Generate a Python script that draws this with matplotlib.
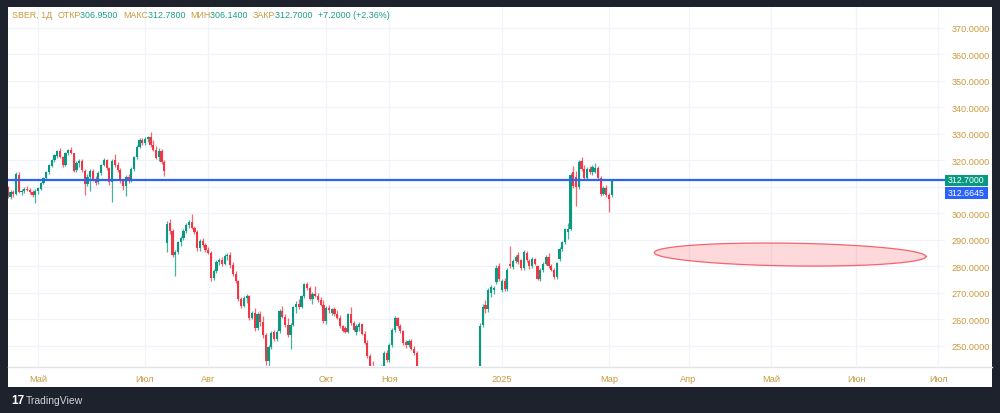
import numpy as np
import pandas as pd
import matplotlib
matplotlib.use("Agg")
import matplotlib.pyplot as plt
from matplotlib.patches import Rectangle

plt.rcParams['font.family'] = ['Liberation Sans', 'DejaVu Sans']

# ---------------- data ----------------
ticker = "SBER, 1Д"
start_date = "2024-04-16"
moex_holidays = ["2024-05-01", "2024-05-09", "2024-05-10", "2024-06-12", "2024-11-04",
                 "2024-12-31", "2025-01-01", "2025-01-02", "2025-01-07", "2025-01-08"]
axis_end_date = "2025-07-10"

opens = [
    309.8, 306.2, 308.2, 307.4, 314.6, 308.0, 308.6, 309.3, 308.8, 308.0,
    306.9, 308.5, 309.4, 311.5, 313.3, 315.7, 318.0, 320.1, 321.8, 323.4,
    321.2, 318.3, 322.8, 324.0, 322.7, 316.4, 319.2, 319.8, 316.2, 311.0,
    313.8, 316.0, 313.0, 311.8, 315.2, 318.4, 320.2, 317.0, 311.8, 320.0,
    318.4, 316.4, 312.2, 310.2, 313.8, 312.4, 316.8, 321.2, 325.2, 327.8,
    326.6, 328.2, 328.8, 325.8, 324.0, 321.2, 323.6, 319.4,
    289.0, 296.4, 293.2, 284.4, 285.6, 289.2, 290.6, 293.4, 295.6, 296.8,
    294.6, 293.0, 286.8, 289.6, 288.0, 286.4, 285.0, 275.6, 278.2, 281.8,
    282.6, 281.0, 283.8, 284.2, 280.4, 277.2, 274.4, 267.6, 265.2, 268.2,
    268.8, 260.6, 262.4, 256.6, 262.0, 259.0, 254.0, 244.4, 249.6, 255.4,
    252.6, 255.6, 263.2, 261.0, 257.8, 254.2, 258.0, 264.6, 265.8, 264.8,
    268.8, 273.2, 272.0, 267.8, 269.6, 269.0, 267.2, 265.6, 259.4, 264.2,
    262.6, 263.8, 262.0, 260.6, 257.4, 256.6, 255.4, 262.0, 258.8, 255.4,
    257.0, 258.2, 254.6, 251.2, 246.2, 242.0, 240.0, 236.4, 239.6, 242.2,
    247.4, 244.6, 250.4, 256.0, 260.6, 257.4, 255.6, 251.6, 250.2, 251.8,
    249.0, 247.4, 240.4, 236.8, 238.6, 233.8, 230.4, 235.2, 238.8, 236.0,
    232.2, 235.8, 234.4, 237.6, 232.8, 229.0, 226.2, 229.8, 227.0, 224.0,
    227.8, 225.0, 222.4, 224.0, 222.0, 258.0, 265.6, 263.8, 270.0, 271.0,
    274.0, 280.2, 271.0, 274.4, 271.6, 281.0, 279.8, 282.2, 284.2, 282.4,
    279.6, 285.2, 282.0, 280.0, 282.8, 280.0, 275.4, 278.8, 281.0, 283.6,
    280.2, 278.8, 276.0, 282.8, 286.6, 289.2, 293.0, 294.2, 315.6, 313.6,
    310.0, 319.8, 316.8, 313.4, 316.8, 315.6, 315.8, 317.2, 313.4, 307.4,
    309.6, 307.0, 306.95,
]
highs = [
    310.5, 308.8, 309.0, 315.5, 315.8, 309.2, 310.0, 310.2, 309.6, 308.8,
    309.4, 310.0, 312.0, 313.8, 316.2, 318.5, 320.6, 322.4, 323.9, 324.6,
    321.8, 323.2, 324.4, 325.2, 323.0, 319.8, 320.4, 320.6, 316.8, 315.0,
    316.8, 316.8, 314.2, 316.0, 318.8, 320.8, 320.6, 317.6, 320.6, 322.4,
    319.6, 317.0, 313.0, 314.6, 315.0, 317.4, 321.8, 325.8, 328.4, 328.6,
    328.8, 329.4, 330.8, 327.6, 325.4, 324.6, 324.2, 320.0,
    297.0, 298.0, 294.2, 286.4, 289.8, 291.6, 294.0, 296.4, 297.4, 299.8,
    295.2, 293.6, 290.4, 290.8, 288.8, 287.4, 285.8, 279.0, 282.6, 283.2,
    283.4, 284.6, 285.0, 285.4, 281.6, 278.4, 275.0, 268.6, 269.0, 269.6,
    269.2, 263.2, 264.4, 262.8, 263.2, 261.4, 254.8, 250.4, 255.6, 256.2,
    256.0, 264.0, 265.2, 262.0, 260.6, 258.6, 265.0, 266.8, 267.6, 269.4,
    273.8, 274.0, 272.8, 270.4, 272.8, 270.0, 268.4, 267.2, 265.0, 265.4,
    264.4, 264.6, 263.4, 261.8, 258.0, 257.4, 262.6, 264.8, 259.6, 258.4,
    259.0, 258.6, 255.6, 252.2, 247.0, 244.2, 241.6, 240.4, 242.8, 248.0,
    248.4, 251.0, 256.6, 261.2, 261.0, 258.2, 256.2, 252.4, 252.6, 252.8,
    250.0, 248.2, 241.2, 239.8, 239.4, 235.0, 236.0, 239.6, 240.2, 236.8,
    236.6, 237.0, 238.4, 238.2, 233.6, 230.2, 230.6, 231.0, 228.0, 228.6,
    229.4, 226.0, 225.0, 224.6, 258.6, 266.0, 267.2, 271.8, 273.0, 272.8,
    280.6, 281.4, 275.2, 275.6, 279.6, 287.6, 282.8, 284.2, 285.6, 283.0,
    286.4, 286.0, 282.8, 283.6, 283.2, 280.6, 279.6, 281.6, 284.2, 285.2,
    281.0, 279.6, 281.8, 287.4, 289.8, 294.6, 296.4, 315.2, 318.0, 316.2,
    320.2, 321.4, 318.2, 317.6, 317.8, 318.4, 319.0, 318.0, 314.0, 310.2,
    310.8, 307.8, 312.78,
]
lows = [
    305.8, 305.5, 306.4, 307.0, 307.6, 306.8, 307.9, 308.4, 307.5, 306.2,
    303.8, 307.5, 309.0, 311.0, 312.8, 315.0, 317.4, 319.5, 321.0, 320.8,
    317.6, 318.0, 322.0, 322.3, 315.5, 315.6, 317.6, 315.8, 306.8, 310.2,
    308.6, 312.4, 310.8, 311.0, 314.6, 317.8, 316.4, 310.8, 304.2, 317.6,
    315.8, 311.6, 309.0, 306.6, 311.6, 312.0, 316.2, 320.6, 324.6, 326.0,
    326.0, 327.0, 325.0, 323.4, 320.4, 319.8, 318.8, 314.2,
    285.5, 292.4, 283.6, 276.5, 284.8, 287.8, 290.0, 292.6, 294.6, 294.0,
    292.4, 286.0, 286.0, 287.2, 285.6, 284.6, 274.6, 274.8, 277.6, 280.4,
    280.2, 280.4, 282.6, 279.6, 276.4, 273.6, 266.8, 264.4, 264.6, 266.4,
    259.8, 260.0, 255.6, 256.0, 257.6, 253.0, 243.0, 242.6, 248.8, 252.0,
    251.8, 254.8, 260.4, 257.0, 253.4, 248.8, 257.4, 262.4, 264.0, 264.2,
    268.2, 271.2, 267.2, 265.8, 268.4, 266.6, 265.0, 258.6, 258.2, 262.6,
    261.6, 261.4, 260.0, 256.6, 255.2, 255.0, 255.0, 258.0, 255.6, 254.2,
    255.8, 254.0, 250.6, 245.4, 241.0, 238.0, 235.0, 235.0, 238.6, 241.6,
    243.8, 243.8, 249.6, 255.4, 256.6, 254.8, 250.4, 249.4, 249.6, 248.4,
    246.6, 239.4, 236.0, 235.6, 233.0, 229.6, 229.8, 234.4, 235.2, 231.4,
    231.0, 233.6, 233.8, 232.0, 228.2, 225.4, 225.0, 226.4, 223.2, 223.0,
    224.2, 221.4, 219.8, 220.6, 221.4, 257.2, 262.6, 263.0, 268.6, 269.8,
    273.4, 274.6, 270.2, 270.8, 270.8, 279.4, 279.0, 281.2, 281.0, 278.6,
    278.8, 281.6, 279.2, 279.4, 280.4, 274.8, 274.6, 278.0, 280.4, 279.4,
    278.2, 275.2, 275.2, 282.0, 285.8, 288.6, 290.4, 293.6, 309.6, 302.8,
    309.4, 316.0, 312.6, 312.8, 315.0, 314.6, 315.2, 312.6, 306.6, 306.8,
    306.4, 300.5, 306.14,
]
closes = [
    306.5, 308.2, 307.2, 314.8, 308.2, 308.6, 309.4, 308.8, 308.0, 306.9,
    308.6, 309.5, 311.6, 313.4, 315.8, 318.1, 320.2, 321.9, 323.5, 321.3,
    318.2, 322.8, 324.0, 322.8, 316.2, 319.2, 319.8, 316.4, 311.2, 313.6,
    316.2, 313.0, 311.6, 315.2, 318.4, 320.2, 317.0, 312.0, 319.8, 318.2,
    316.4, 312.4, 310.2, 313.8, 312.2, 316.8, 321.2, 325.2, 327.8, 326.6,
    328.2, 328.8, 325.8, 324.0, 321.0, 323.6, 319.6, 316.2,
    296.0, 293.2, 284.4, 285.6, 289.2, 290.6, 293.4, 295.6, 296.8, 294.6,
    293.0, 286.8, 289.6, 288.0, 286.4, 285.2, 275.6, 278.2, 281.8, 282.6,
    281.0, 283.8, 284.2, 280.4, 277.2, 274.4, 267.6, 265.2, 268.2, 268.8,
    260.6, 262.4, 256.6, 262.0, 259.0, 254.0, 244.4, 249.6, 255.0, 252.6,
    255.4, 263.2, 261.0, 257.8, 254.2, 258.0, 264.6, 265.8, 264.8, 268.8,
    273.2, 272.0, 267.8, 269.6, 269.0, 267.2, 265.6, 259.4, 264.2, 263.4,
    263.8, 262.0, 260.6, 257.4, 255.8, 255.4, 262.0, 258.8, 256.2, 257.6,
    258.2, 254.6, 251.2, 246.2, 242.0, 239.0, 236.4, 239.6, 242.2, 247.4,
    244.6, 250.4, 256.0, 260.6, 257.4, 255.6, 251.2, 250.2, 251.8, 249.0,
    247.4, 240.4, 236.8, 238.6, 233.8, 230.4, 235.2, 238.8, 236.0, 232.2,
    235.8, 234.4, 237.6, 232.8, 229.0, 226.2, 229.8, 227.0, 224.0, 227.8,
    225.0, 222.4, 224.0, 221.8, 257.6, 264.8, 263.8, 271.2, 272.2, 272.0,
    279.6, 275.4, 274.4, 271.6, 278.8, 280.2, 282.2, 283.6, 281.8, 279.4,
    285.6, 282.4, 280.0, 282.8, 281.0, 275.4, 278.8, 281.0, 283.6, 280.2,
    278.8, 276.0, 281.2, 286.6, 289.2, 294.0, 294.2, 314.4, 310.4, 310.0,
    319.4, 316.8, 313.4, 316.8, 315.6, 317.4, 317.2, 313.4, 307.4, 309.6,
    307.0, 305.5, 312.70,
]

hline_price = 312.6645
last_change = 7.20
last_change_pct = 2.36

month_labels = ["Май", "Июл", "Авг", "Окт", "Ноя", "2025", "Мар", "Апр", "Май", "Июн", "Июл"]
month_dates = ["2024-05-01", "2024-07-01", "2024-08-01", "2024-10-01", "2024-11-01", "2025-01-01",
               "2025-03-01", "2025-04-01", "2025-05-01", "2025-06-01", "2025-07-01"]
price_ticks = [250, 260, 270, 280, 290, 300, 310, 320, 330, 340, 350, 360, 370]

ellipse_center_date = "2025-05-08"
ellipse_center_price = 284.5
ellipse_width_days = 99
ellipse_height_price = 8.6
ellipse_tilt_price = -1.5

# ---------------- build x axis (trading days, then calendar days) ----------------
n = min(len(opens), len(highs), len(lows), len(closes))
o = np.array(opens[:n]); h = np.array(highs[:n]); l = np.array(lows[:n]); c = np.array(closes[:n])
bday = pd.offsets.CustomBusinessDay(holidays=moex_holidays)
hist_dates = pd.date_range(start=start_date, periods=n, freq=bday)
fut_dates = pd.date_range(hist_dates[-1] + pd.Timedelta(days=1), axis_end_date, freq="D")
all_dates = hist_dates.append(fut_dates)
idx = np.arange(n)

def date_to_idx(d):
    d = pd.Timestamp(d)
    return int(np.searchsorted(all_dates.values, np.datetime64(d)))

# ---------------- figure ----------------
W, H = 1000, 414
fig = plt.figure(figsize=(W / 100, H / 100), dpi=100)
bg = "#1e222d"
fig.patch.set_facecolor(bg)

def fx(px): return px / W
def fy(py): return 1 - py / H

panel = Rectangle((fx(8), fy(388)), fx(992) - fx(8), fy(8) - fy(388),
                  transform=fig.transFigure, facecolor="white", edgecolor="none", zorder=0)
fig.add_artist(panel)

pane_l, pane_r, pane_t, pane_b = 8, 945, 8, 367
ax = fig.add_axes([fx(pane_l), fy(pane_b), fx(pane_r) - fx(pane_l), fy(pane_t) - fy(pane_b)])
ax.set_facecolor("white")
ax.set_zorder(1)

px_per_bar = 2.745
x0_px = 7.8
ax.set_xlim((pane_l - x0_px) / px_per_bar, (pane_r - x0_px) / px_per_bar)
ax.set_ylim(242.45, 377.9)

gold = "#c99a3e"
teal = "#1a9e88"
up = "#089981"
down = "#f23645"

# axis labels (price-scale labels hidden where the price boxes sit, as TradingView does)
tick_pos = [date_to_idx(d) for d in month_dates]
ax.set_xticks(tick_pos)
ax.set_xticklabels(month_labels)
ax.set_yticks(price_ticks)
box_zone = (c[-1] - 3.5, hline_price - 3.5)
ylabels = ["" if abs(p - c[-1]) < 4.0 else f"{p:.4f}" for p in price_ticks]
ax.set_yticklabels(ylabels)
ax.grid(True, color="#f0f3fa", lw=0.9, zorder=0)
ax.set_axisbelow(True)
ax.yaxis.tick_right()
ax.tick_params(axis="both", length=0, colors=gold, labelsize=6.6)
ax.tick_params(axis="x", pad=6)
ax.tick_params(axis="y", pad=5)
for s in ax.spines.values():
    s.set_visible(False)

# candles
colors = np.where(c >= o, up, down)
ax.vlines(idx, l, h, colors=colors, lw=0.9, alpha=0.75, zorder=2)
body_bottom = np.minimum(o, c)
body_h = np.maximum(np.abs(c - o), 0.3)
ax.bar(idx, body_h, bottom=body_bottom, width=0.8, color=colors, edgecolor="none", zorder=3)

# horizontal line
ax.axhline(hline_price, color="#2962ff", lw=1.6, zorder=4)

# ellipse drawing
sx = (pane_r - pane_l) / (ax.get_xlim()[1] - ax.get_xlim()[0])
sy = (pane_b - pane_t) / (ax.get_ylim()[1] - ax.get_ylim()[0])
ecx = date_to_idx(ellipse_center_date)
a = ellipse_width_days / 2 * sx
b = ellipse_height_price / 2 * sy
theta = np.arctan2(ellipse_tilt_price * sy, ellipse_width_days * sx)
t = np.linspace(0, 2 * np.pi, 300)
ex = ecx + (a * np.cos(t) * np.cos(theta) - b * np.sin(t) * np.sin(theta)) / sx
ey = ellipse_center_price + (a * np.cos(t) * np.sin(theta) + b * np.sin(t) * np.cos(theta)) / sy
ax.fill(ex, ey, facecolor="#f7525f", alpha=0.22, edgecolor="none", zorder=2)
ax.plot(ex, ey, color="#f23645", lw=0.9, alpha=0.75, zorder=2)

# bottom separator line
fig.add_artist(plt.Line2D([fx(8), fx(992)], [fy(367.5), fy(367.5)], transform=fig.transFigure,
                          color="#e0e3eb", lw=1.0, zorder=2))

# price labels on the axis
def price_box(text, color, py_top, py_bot):
    rect = Rectangle((fx(945), fy(py_bot)), fx(988) - fx(945), fy(py_top) - fy(py_bot),
                     transform=fig.transFigure, facecolor=color, edgecolor="none", zorder=5)
    fig.add_artist(rect)
    fig.text(fx(966.5), fy((py_top + py_bot) / 2), text, color="white", fontsize=6.3,
             ha="center", va="center", zorder=6)

price_box(f"{c[-1]:.4f}", up, 175.5, 186.5)
price_box(f"{hline_price:.4f}", "#2962ff", 187.5, 199.5)

# header legend
fs_head = 6.4
parts = [(ticker + "  ", gold), ("ОТКР", gold), (f"{o[-1]:.4f}  ", teal),
         ("МАКС", gold), (f"{h[-1]:.4f}  ", teal), ("МИН", gold), (f"{l[-1]:.4f}  ", teal),
         ("ЗАКР", gold), (f"{c[-1]:.4f}  ", teal),
         (f"+{last_change:.4f} (+{last_change_pct:.2f}%)", teal)]
prev = fig.text(fx(12), fy(16), parts[0][0], color=parts[0][1], fontsize=fs_head, va="center",
                ha="left", zorder=6)
for txt, col in parts[1:]:
    prev = ax.annotate(txt, xy=(1, 0.5), xycoords=prev, va="center", ha="left",
                       color=col, fontsize=fs_head, annotation_clip=False, zorder=6)

# TradingView logo
fig.text(fx(11), fy(401), "17", color="white", fontsize=8.5, fontweight="bold", va="center",
         ha="left")
fig.text(fx(26), fy(401), "TradingView", color="#d1d4dc", fontsize=7.5, va="center", ha="left")

fig.savefig("out.png", dpi=100, facecolor=bg)
